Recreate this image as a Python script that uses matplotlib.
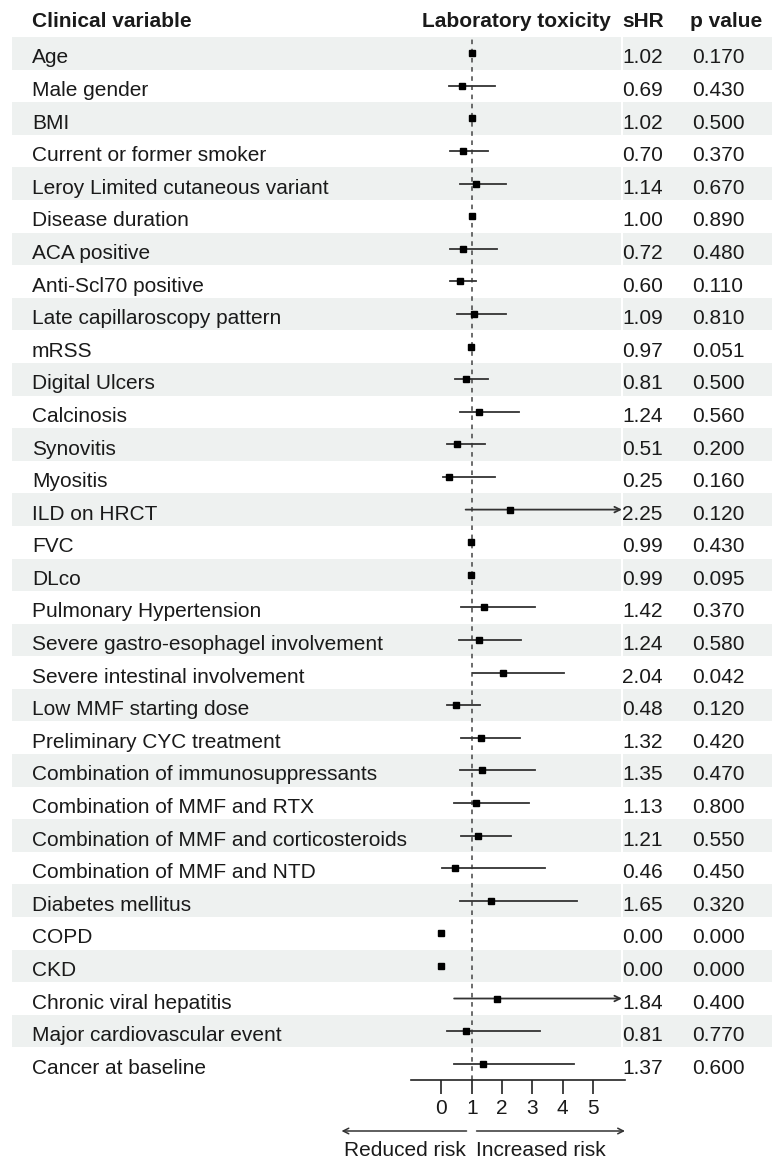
import numpy as np
import matplotlib
matplotlib.use('Agg')
import matplotlib.pyplot as plt
from matplotlib.transforms import blended_transform_factory

plt.rcParams['font.family'] = ['Liberation Sans', 'DejaVu Sans']

# %% Data
variables = ['Age', 'Male gender', 'BMI', 'Current or former smoker',
             'Leroy Limited cutaneous variant', 'Disease duration', 'ACA positive',
             'Anti-Scl70 positive', 'Late capillaroscopy pattern', 'mRSS',
             'Digital Ulcers', 'Calcinosis', 'Synovitis', 'Myositis', 'ILD on HRCT',
             'FVC', 'DLco', 'Pulmonary Hypertension',
             'Severe gastro-esophagel involvement', 'Severe intestinal involvement',
             'Low MMF starting dose', 'Preliminary CYC treatment',
             'Combination of immunosuppressants', 'Combination of MMF and RTX',
             'Combination of MMF and corticosteroids', 'Combination of MMF and NTD',
             'Diabetes mellitus', 'COPD', 'CKD', 'Chronic viral hepatitis',
             'Major cardiovascular event', 'Cancer at baseline']
shr = [1.02, 0.69, 1.02, 0.70, 1.14, 1.00, 0.72, 0.60, 1.09, 0.97, 0.81, 1.24,
       0.51, 0.25, 2.25, 0.99, 0.99, 1.42, 1.24, 2.04, 0.48, 1.32, 1.35, 1.13,
       1.21, 0.46, 1.65, 0.00, 0.00, 1.84, 0.81, 1.37]
ci_low = [1.00, 0.26, 1.00, 0.30, 0.61, 0.99, 0.30, 0.30, 0.52, 0.95, 0.44, 0.61,
          0.17, 0.06, 0.80, 0.98, 0.98, 0.64, 0.58, 1.05, 0.17, 0.64, 0.61, 0.42,
          0.64, 0.03, 0.61, 0.00, 0.00, 0.42, 0.17, 0.42]
ci_high = [1.04, 1.76, 1.04, 1.54, 2.14, 1.01, 1.84, 1.13, 2.14, 0.99, 1.54, 2.55,
           1.45, 1.76, 6.50, 1.00, 1.00, 3.08, 2.64, 4.04, 1.27, 2.58, 3.08, 2.89,
           2.28, 3.43, 4.47, 0.00, 0.00, 6.50, 3.26, 4.36]
p_values = ['0.170', '0.430', '0.500', '0.370', '0.670', '0.890', '0.480', '0.110',
            '0.810', '0.051', '0.500', '0.560', '0.200', '0.160', '0.120', '0.430',
            '0.095', '0.370', '0.580', '0.042', '0.120', '0.420', '0.470', '0.800',
            '0.550', '0.450', '0.320', '0.000', '0.000', '0.400', '0.770', '0.600']
x_ticks = [0, 1, 2, 3, 4, 5]

n = len(variables)
rows = np.arange(n)
txt_col = '#1a1a1a'
shade = '#eef1f0'
fs = 15

W, H = 772, 1160
fig = plt.figure(figsize=(W / 100, H / 100), dpi=100)

# table axes (full width, rows as y)
top_px, bot_px = 37, 1080
tab = fig.add_axes([0, 1 - bot_px / H, 1, (bot_px - top_px) / H])
tab.set_xlim(0, W)
tab.set_ylim(n - 0.5, -0.5)
tab.axis('off')

base = 0.31  # text baseline offset inside a row
for i in rows:
    if i % 2 == 0:
        tab.axhspan(i - 0.5, i + 0.5, xmin=12 / W, xmax=621 / W, color=shade, lw=0)
        tab.axhspan(i - 0.5, i + 0.5, xmin=623 / W, xmax=1, color=shade, lw=0)
    tab.text(32, i + base, variables[i], fontsize=fs, color=txt_col, va='baseline', ha='left')
    tab.text(622, i + base, '%.2f' % shr[i], fontsize=fs, color=txt_col, va='baseline', ha='left')
    tab.text(692, i + base, p_values[i], fontsize=fs, color=txt_col, va='baseline', ha='left')

# header
hy = -0.80
tab.text(32, hy, 'Clinical variable', fontsize=fs, fontweight='bold', color=txt_col, va='baseline')
tab.text(611, hy, 'Laboratory toxicity', fontsize=fs, fontweight='bold', color=txt_col,
         va='baseline', ha='right')
tab.text(622, hy, 'sHR', fontsize=fs, fontweight='bold', color=txt_col, va='baseline')
tab.text(690, hy, 'p value', fontsize=fs, fontweight='bold', color=txt_col, va='baseline')

# forest axes
xmin, xmax = -1.0, 6.05
fx0, fx1 = 411, 625
ax = fig.add_axes([fx0 / W, 1 - bot_px / H, (fx1 - fx0) / W, (bot_px - top_px) / H])
ax.patch.set_alpha(0)
ax.set_xlim(xmin, xmax)
ax.set_ylim(n - 0.5, -0.5)
for s in ['top', 'left', 'right']:
    ax.spines[s].set_visible(False)
ax.spines['bottom'].set_color('#222222')
ax.spines['bottom'].set_linewidth(1.2)
ax.set_yticks([])
ax.set_xticks(x_ticks)
ax.tick_params(axis='x', direction='out', length=10, width=1.2, color='#222222',
               labelsize=fs, labelcolor=txt_col, pad=4)

ax.axvline(1, color='#444444', lw=1.1, ls=(0, (3, 3)), zorder=1)

cap = 5.95
for i in rows:
    lo, hi = ci_low[i], ci_high[i]
    if hi > cap:
        ax.annotate('', xy=(cap, i), xytext=(lo, i),
                    arrowprops=dict(arrowstyle='->', color='#333333', lw=1.3,
                                    shrinkA=0, shrinkB=0, mutation_scale=10))
    elif hi > lo:
        ax.plot([lo, hi], [i, i], color='#333333', lw=1.3, zorder=2)
    ax.plot(shr[i], i, marker='s', color='black', markersize=5, zorder=3)

# risk arrows below the axis
tr = blended_transform_factory(ax.transData, fig.transFigure)
ay = 1 - 1131 / H
ty = 1 - 1150 / H
ax.annotate('', xy=(-3.29, ay), xytext=(0.83, ay), xycoords=tr, textcoords=tr,
            arrowprops=dict(arrowstyle='->', color='#333333', lw=1.1,
                            shrinkA=0, shrinkB=0, mutation_scale=10), annotation_clip=False)
ax.annotate('', xy=(6.05, ay), xytext=(1.16, ay), xycoords=tr, textcoords=tr,
            arrowprops=dict(arrowstyle='->', color='#333333', lw=1.1,
                            shrinkA=0, shrinkB=0, mutation_scale=10), annotation_clip=False)
ax.text(0.8, ty, 'Reduced risk', transform=tr, fontsize=fs, color=txt_col,
        ha='right', va='center')
ax.text(1.15, ty, 'Increased risk', transform=tr, fontsize=fs, color=txt_col,
        ha='left', va='center')

fig.savefig('out.png', dpi=100)
